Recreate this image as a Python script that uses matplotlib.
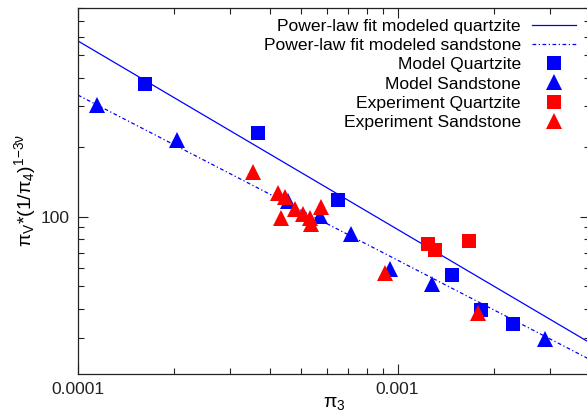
import numpy as np
import matplotlib
matplotlib.use("Agg")
import matplotlib.pyplot as plt
from matplotlib.ticker import NullFormatter, FuncFormatter

plt.rcParams['font.family'] = ['Liberation Sans', 'DejaVu Sans']
plt.rcParams['mathtext.fontset'] = 'custom'
plt.rcParams['mathtext.rm'] = 'Liberation Sans'
plt.rcParams['mathtext.it'] = 'Liberation Sans'

# power-law fits: y = c0 * (x / 1e-4) ** k
fit_quartzite = (576.0, -0.815)
fit_sandstone = (336.0, -0.714)

model_qz_x = [1.62e-4, 3.65e-4, 6.5e-4, 1.475e-3, 1.83e-3, 2.30e-3]
model_qz_y = [377, 230, 118, 56.1, 39.5, 34.5]

model_ss_x = [1.144e-4, 2.04e-4, 4.55e-4, 5.71e-4, 7.14e-4, 9.46e-4, 1.277e-3, 2.89e-3]
model_ss_y = [303, 215, 117.3, 101, 84.1, 59.3, 51.1, 29.5]

exp_qz_x = [1.247e-3, 1.31e-3, 1.675e-3]
exp_qz_y = [76.6, 71.8, 78.7]

exp_ss_x = [3.53e-4, 4.24e-4, 4.44e-4, 4.31e-4, 4.77e-4, 5.07e-4, 5.32e-4, 5.36e-4, 5.76e-4, 9.12e-4, 1.787e-3]
exp_ss_y = [155.6, 126.2, 121.2, 99.3, 108, 102.7, 99.3, 93.0, 110.5, 57.4, 38.5]

xlim = (1e-4, 4e-3)
ylim = (21, 800)

fig = plt.figure(figsize=(5.87, 4.17), dpi=100)
ax = fig.add_axes([78 / 587, 43.5 / 417, 512 / 587, 365.5 / 417])
ax.set_xscale('log')
ax.set_yscale('log')

xs = np.logspace(np.log10(xlim[0]), np.log10(xlim[1]), 200)
ax.plot(xs, fit_quartzite[0] * (xs / 1e-4) ** fit_quartzite[1], color='#0000ff', lw=0.9,
        label='Power-law fit modeled quartzite')
ax.plot(xs, fit_sandstone[0] * (xs / 1e-4) ** fit_sandstone[1], color='#0000ff', lw=0.9,
        ls=(0, (3, 2, 1, 2)), label='Power-law fit modeled sandstone')

ax.plot(model_qz_x, model_qz_y, 's', color='#0000ff', ms=10.5, mew=0, label='Model Quartzite')
ax.plot(model_ss_x, model_ss_y, '^', color='#0000ff', ms=11, mew=0, label='Model Sandstone')
ax.plot(exp_qz_x, exp_qz_y, 's', color='#ff0000', ms=10.5, mew=0, label='Experiment Quartzite')
ax.plot(exp_ss_x, exp_ss_y, '^', color='#ff0000', ms=11, mew=0, label='Experiment Sandstone')

ax.set_xlim(*xlim)
ax.set_ylim(*ylim)

ax.xaxis.set_major_formatter(FuncFormatter(lambda v, p: '{:g}'.format(v)))
ax.yaxis.set_major_formatter(FuncFormatter(lambda v, p: '{:g}'.format(v)))
ax.xaxis.set_minor_formatter(NullFormatter())
ax.yaxis.set_minor_formatter(NullFormatter())
ax.tick_params(which='both', direction='in', top=True, right=True, labelsize=12.5, colors='#222222')
ax.tick_params(which='major', length=7, width=0.8, pad=6)
ax.tick_params(which='minor', length=4, width=0.8)
for s in ax.spines.values():
    s.set_linewidth(0.9)
    s.set_color('#222222')

ax.set_xlabel(r'$\pi_3$', fontsize=14, labelpad=-1)
ax.set_ylabel(r'$\pi_V$*(1/$\pi_4$)$^{1\mathrm{-}3\nu}$', fontsize=14, labelpad=2)

leg = ax.legend(loc='upper right', bbox_to_anchor=(576 / 587, 398 / 417),
                bbox_transform=fig.transFigure, frameon=False, markerfirst=False,
                fontsize=12.6, handlelength=2.5, handletextpad=0.65, labelspacing=0.22,
                borderaxespad=0, borderpad=0)

fig.savefig('out.png', dpi=100)
